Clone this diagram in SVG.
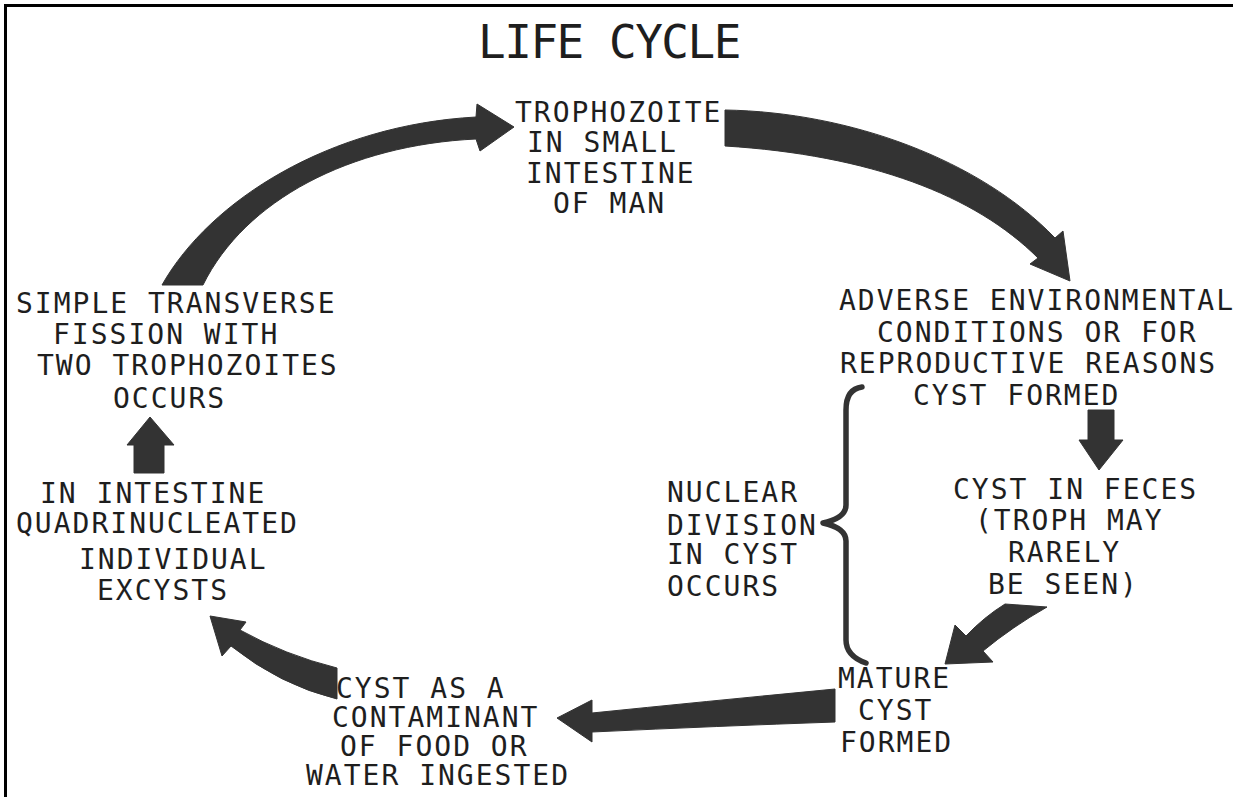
<svg xmlns="http://www.w3.org/2000/svg" width="1233" height="797" viewBox="0 0 1233 797">
<style>
.t{font-family:"DejaVu Sans Mono","Liberation Mono",monospace;font-size:28px;letter-spacing:2px;fill:#1e1e1e}
.title{font-family:"DejaVu Sans Mono","Liberation Mono",monospace;font-size:46px;letter-spacing:-1.5px;fill:#1e1e1e}
.arr{fill:#333333;stroke:#333333;stroke-width:1;stroke-linejoin:round}
.brace{fill:none;stroke:#333333;stroke-width:5.5;stroke-linecap:round;stroke-linejoin:round}
.frame{stroke:#000;stroke-width:3;fill:none}
</style>
<rect width="1233" height="797" fill="#ffffff"/>
<path class="frame" d="M5.5,797 L5.5,5.5 L1233,5.5"/>
<text class="title" x="478" y="58">LIFE CYCLE</text>

<g id="connectors">
  <path id="c-fission-troph" class="arr" d="M162,285 C210,200 330,125 476,117 L477,104 L514,127 L480,151 L476,139 C350,145 245,200 203,285 Z"/>
  <path id="c-troph-adverse" class="arr" d="M725,110 C850,112 980,160 1055,238 L1063,231 L1070,281 L1030,264 L1038,258 C975,195 870,155 725,146 Z"/>
  <path id="c-adverse-feces" class="arr" d="M1088,410 L1114,410 L1114,440 L1123,440 L1099,470 L1079,440 L1088,440 Z"/>
  <path id="c-feces-mature" class="arr" d="M1005,604 L1047,607 Q1012,627 983,651 L993,662 L945,664 L955,625 L966,636 Q984,617 1005,604 Z"/>
  <path id="c-mature-contam" class="arr" d="M835,689 Q700,702 592,713 L592,700 L557,718 L592,742 L592,732 Q720,726 835,722 Z"/>
  <path id="c-contam-excyst" class="arr" d="M337,668 Q285,655 240,630 L246,622 L210,616 L222,656 L231,646 Q280,685 337,699 Z"/>
  <path id="c-excyst-fission" class="arr" d="M134,473 L164,473 L164,445 L174,445 L150,417 L127,445 L134,445 Z"/>
  <path id="c-brace" class="brace" d="M862,387 Q846,389 846,410 L846,505 Q846,518 823,523 Q846,528 846,541 L846,640 Q846,656 866,663"/>
</g>

<g id="node-trophozoite">
  <text class="t"><tspan x="515" y="122">TROPHOZOITE</tspan><tspan x="527" y="152">IN SMALL</tspan><tspan x="526" y="183">INTESTINE</tspan><tspan x="553" y="213">OF MAN</tspan></text>
</g>
<g id="node-adverse">
  <text class="t"><tspan x="839" y="310">ADVERSE ENVIRONMENTAL</tspan><tspan x="877" y="342">CONDITIONS OR FOR</tspan><tspan x="840" y="373">REPRODUCTIVE REASONS</tspan><tspan x="913" y="405">CYST FORMED</tspan></text>
</g>
<g id="node-feces">
  <text class="t"><tspan x="953" y="499">CYST IN FECES</tspan><tspan x="975" y="530">(TROPH MAY</tspan><tspan x="1008" y="562">RARELY</tspan><tspan x="988" y="594">BE SEEN)</tspan></text>
</g>
<g id="node-nuclear">
  <text class="t"><tspan x="667" y="502">NUCLEAR</tspan><tspan x="667" y="535">DIVISION</tspan><tspan x="667" y="564">IN CYST</tspan><tspan x="667" y="596">OCCURS</tspan></text>
</g>
<g id="node-mature">
  <text class="t"><tspan x="838" y="688">MATURE</tspan><tspan x="858" y="720">CYST</tspan><tspan x="840" y="752">FORMED</tspan></text>
</g>
<g id="node-contaminant">
  <text class="t"><tspan x="336" y="698">CYST AS A</tspan><tspan x="332" y="727">CONTAMINANT</tspan><tspan x="340" y="756">OF FOOD OR</tspan><tspan x="306" y="785">WATER INGESTED</tspan></text>
</g>
<g id="node-excyst">
  <text class="t"><tspan x="40" y="503">IN INTESTINE</tspan><tspan x="16" y="533">QUADRINUCLEATED</tspan><tspan x="79" y="569">INDIVIDUAL</tspan><tspan x="97" y="600">EXCYSTS</tspan></text>
</g>
<g id="node-fission">
  <text class="t"><tspan x="16" y="313">SIMPLE TRANSVERSE</tspan><tspan x="53" y="344">FISSION WITH</tspan><tspan x="37" y="375">TWO TROPHOZOITES</tspan><tspan x="113" y="408">OCCURS</tspan></text>
</g>
</svg>
